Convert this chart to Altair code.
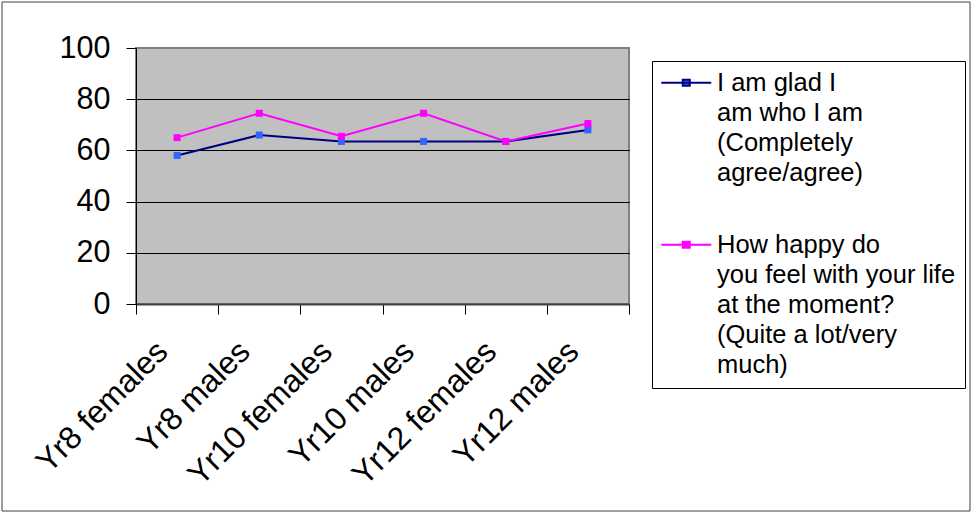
import altair as alt
import pandas as pd

categories = ["Yr8 females", "Yr8 males", "Yr10 females", "Yr10 males", "Yr12 females", "Yr12 males"]
series_names = [
    "I am glad I|am who I am|(Completely|agree/agree)",
    "How happy do|you feel with your life|at the moment?|(Quite a lot/very|much)",
]
glad_values = [58, 66, 63.5, 63.5, 63.5, 68]
happy_values = [65, 74.5, 65.5, 74.5, 63.5, 70.5]
y_ticks = [0, 20, 40, 60, 80, 100]

line_colors = ["#000080", "#FF00FF"]
marker_colors = ["#3366FF", "#FF00FF"]

rows = []
for s, vals in zip(series_names, [glad_values, happy_values]):
    for c, v in zip(categories, vals):
        rows.append({"category": c, "series": s, "value": v})
df = pd.DataFrame(rows)

FONT = "Liberation Sans"
SYMBOL = "M-25,0L25,0M-3.5,-3L3.5,-3L3.5,3L-3.5,3Z"

x_enc = alt.X(
    "category:N",
    sort=categories,
    scale=alt.Scale(type="band", domain=categories, paddingInner=0, paddingOuter=0),
    axis=alt.Axis(
        title=None, labelAngle=315, labelAlign="right", labelBaseline="middle",
        labelFontSize=32, labelFont=FONT, labelColor="black", labelPadding=32,
        labelOffset=-15, tickBand="extent", tickSize=10, tickColor="black",
        domainColor="#404040", domainWidth=2, grid=False, labelOverlap=False,
        labelLimit=400,
    ),
)
y_enc = alt.Y(
    "value:Q",
    scale=alt.Scale(domain=[0, 100], nice=False),
    axis=alt.Axis(
        title=None, values=y_ticks, labelFontSize=30.5, labelFont=FONT,
        labelColor="black", labelPadding=16, tickSize=10, tickColor="black",
        domainColor="black", grid=True,
        gridColor=alt.condition("datum.value === 100", alt.value("#808080"), alt.value("black")),
        gridWidth=1,
    ),
)

def legend_def():
    return alt.Legend(
        title=None, orient="none", legendX=516, legendY=13,
        labelExpr="split(datum.label, '|')", symbolType=SYMBOL, symbolSize=4,
        symbolStrokeWidth=2, symbolOffset=12.5, labelOffset=18,
        labelFontSize=25.5, labelFont=FONT, labelColor="black", labelLimit=400,
        padding=9, rowPadding=45, strokeColor="black", fillColor="white",
    )

base = alt.Chart(df)

lines = base.mark_line(strokeWidth=2).encode(
    x=x_enc,
    y=y_enc,
    stroke=alt.Stroke("series:N", scale=alt.Scale(domain=series_names, range=line_colors),
                      legend=legend_def()),
)
points = base.mark_point(shape="square", filled=True, size=49, opacity=1).encode(
    x=x_enc,
    y=y_enc,
    fill=alt.Fill("series:N", scale=alt.Scale(domain=series_names, range=marker_colors),
                  legend=legend_def()),
)

border = alt.Chart(pd.DataFrame({"k": [0]})).mark_rect(
    fill="transparent", stroke="#404040", strokeWidth=1
).encode(
    x=alt.value(-134), x2=alt.value(834), y=alt.value(-46), y2=alt.value(463)
)

chart = alt.layer(border, lines, points).properties(
    width=493, height=256,
    padding={"left": 136, "top": 48, "right": 343, "bottom": 209},
    autosize=alt.AutoSizeParams(type="none"),
).configure(
    font=FONT,
    style={"guide-label": {"lineHeight": 30}},
).configure_view(
    fill="#C0C0C0", stroke="#808080", strokeWidth=2
)

chart.save("out.html", embed_options={"renderer": "svg", "actions": False})
